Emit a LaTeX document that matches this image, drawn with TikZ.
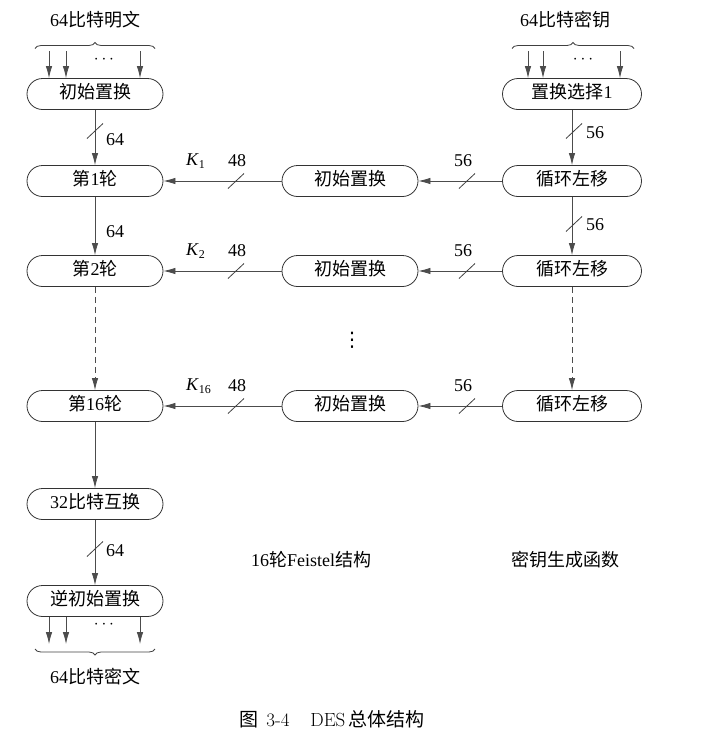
\documentclass[tikz,border=0pt]{standalone}
\usepackage{fontspec}
\setmainfont{Liberation Serif}
\newfontfamily\cjk{Noto Sans CJK SC}
\newfontfamily\lmr{Latin Modern Roman}
\newfontfamily\dvs{DejaVu Sans}
\usetikzlibrary{arrows.meta,decorations.pathreplacing}
\newcommand\zh[1]{{\cjk #1}}
\tikzset{
  blk/.style={draw=black!80, line width=0.8pt, rounded corners=15.5pt,
    minimum width=136pt, minimum height=31pt, inner sep=0pt,
    text height=12.5pt, text depth=3pt, font=\fontsize{18}{21}\selectfont},
  lnk/.style={draw=black!70, line width=0.8pt, -{Latex[length=12pt,width=6.5pt]}},
  dlnk/.style={lnk, dash pattern=on 6pt off 4pt},
  slsh/.style={draw=black!75, line width=0.8pt},
  lbl/.style={inner sep=0pt, font=\fontsize{18}{21}\selectfont},
  brc/.style={draw=black!75, line width=0.8pt, decorate, decoration={brace, amplitude=6pt}},
  dts/.style={inner sep=0pt, font=\fontsize{17}{20}\selectfont}
}
\begin{document}
\begin{tikzpicture}[x=1pt,y=-1pt]
\useasboundingbox (0,0) rectangle (712,745);
% left column
\node[blk] (ip)  at (95,94)  {\zh{初始置换}};
\node[blk] (r1)  at (95,181) {\zh{第}1\zh{轮}};
\node[blk] (r2)  at (95,271) {\zh{第}2\zh{轮}};
\node[blk] (r16) at (95,406) {\zh{第}16\zh{轮}};
\node[blk] (sw)  at (95,504) {32\zh{比特互换}};
\node[blk] (iip) at (95,601) {\zh{逆初始置换}};
% middle column
\node[blk] (m1)  at (350,181) {\zh{初始置换}};
\node[blk] (m2)  at (350,271) {\zh{初始置换}};
\node[blk] (m16) at (350,406) {\zh{初始置换}};
% right column
\node[blk,minimum width=139pt] (pc)  at (572,94)  {\zh{置换选择}1};
\node[blk,minimum width=139pt] (ls1) at (572,181) {\zh{循环左移}};
\node[blk,minimum width=139pt] (ls2) at (572,271) {\zh{循环左移}};
\node[blk,minimum width=139pt] (ls16) at (572,406) {\zh{循环左移}};

% top plaintext
\node[lbl] (pt) at (95,20) {64\zh{比特明文}};
\draw[brc] (35,48.5) -- (155,48.5);
\foreach \dx/\n in {-46/a,-29/b,45/c}{
  \coordinate (pts\n) at (95+\dx,51);
  \draw[lnk] (pts\n) -- (pts\n |- ip.north);
}
\node[dts] (ptd) at (104,60) {$\cdots$};
% top key
\node[lbl] (ky) at (565,20) {64\zh{比特密钥}};
\draw[brc] (512,48.5) -- (634,48.5);
\foreach \dx/\n in {-44/a,-29/b,48/c}{
  \coordinate (kys\n) at (572+\dx,51);
  \draw[lnk] (kys\n) -- (kys\n |- pc.north);
}
\node[dts] (kyd) at (583,60) {$\cdots$};
% bottom ciphertext
\foreach \dx/\n in {-46/a,-29/b,45/c}{
  \coordinate (cte\n) at (95+\dx,644);
  \draw[lnk] (cte\n |- iip.south) -- (cte\n);
}
\node[dts] (ctd) at (104,625) {$\cdots$};
\draw[brc] (155,649) -- (35,649);
\node[lbl] (ct) at (95,677) {64\zh{比特密文}};

% vertical links left
\draw[lnk] (ip) -- (r1);
\coordinate (s1) at (95,131);
\draw[slsh] ([shift={(-8,7.5)}]s1) -- ([shift={(8,-7.5)}]s1);
\node[lbl,anchor=west] at (106,140) {64};
\draw[lnk] (r1) -- (r2);
\node[lbl,anchor=west] at (106,232) {64};
\draw[dlnk] (r2) -- (r16);
\draw[lnk] (r16) -- (sw);
\draw[lnk] (sw) -- (iip);
\coordinate (s2) at (95,549);
\draw[slsh] ([shift={(-8,7.5)}]s2) -- ([shift={(8,-7.5)}]s2);
\node[lbl,anchor=west] at (106,551) {64};

% vertical links right
\draw[lnk] (pc) -- (ls1);
\coordinate (s3) at (574,131);
\draw[slsh] ([shift={(-8,7.5)}]s3) -- ([shift={(8,-7.5)}]s3);
\node[lbl,anchor=west] at (586,133) {56};
\draw[lnk] (ls1) -- (ls2);
\coordinate (s4) at (574,224);
\draw[slsh] ([shift={(-8,7.5)}]s4) -- ([shift={(8,-7.5)}]s4);
\node[lbl,anchor=west] at (586,225) {56};
\draw[dlnk] (ls2) -- (ls16);

% horizontal links
\foreach \r/\y/\k in {1/181/1,2/271/2,16/406/16}{
  \draw[lnk] (ls\r) -- (m\r);
  \coordinate (hs\r) at (467,\y);
  \draw[slsh] ([shift={(-8,7.5)}]hs\r) -- ([shift={(8,-7.5)}]hs\r);
  \node[lbl] at (463,\y-20) {56};
  \draw[lnk] (m\r) -- (r\r);
  \coordinate (hk\r) at (236,\y);
  \draw[slsh] ([shift={(-8,7.5)}]hk\r) -- ([shift={(8,-7.5)}]hk\r);
  \node[lbl] at (237,\y-20) {48};
  \node[lbl,anchor=west] at (186,\y-20) {\textit{K}\raisebox{-3.5pt}{\fontsize{12}{12}\selectfont\k}};
}

% vertical ellipsis
\node[inner sep=0pt,font=\fontsize{20}{22}\dvs] (vd) at (352,340) {⋮};

% section labels
\node[lbl] (fs) at (311,560) {16\zh{轮}Feistel\zh{结构}};
\node[lbl] (kg) at (565,560) {\zh{密钥生成函数}};

% caption
\node[inner sep=0pt,font=\fontsize{19}{22}\selectfont] (cap) at (332,719)
  {\zh{图}\hspace{0.4em}{\lmr 3-4}\hspace{1.1em}{\lmr DES}\hspace{0.15em}\zh{总体结构}};
\end{tikzpicture}
\end{document}
